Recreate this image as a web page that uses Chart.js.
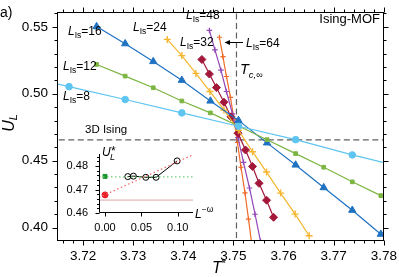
<!DOCTYPE html>
<html><head><meta charset="utf-8">
<script src="https://cdn.jsdelivr.net/npm/chart.js@4.4.1/dist/chart.umd.min.js"></script>
<style>
html,body{margin:0;padding:0;background:#fff;}
#wrap{position:relative;width:399px;height:277px;overflow:hidden;}
#main{position:absolute;left:0;top:0;}
#inset{position:absolute;left:60px;top:140px;}
</style></head><body>
<div id="wrap"><canvas id="main" width="399" height="277"></canvas><canvas id="inset" width="165" height="100"></canvas></div>
<script>
// ---------- data ----------
const T_L8  = [3.7059, 3.7172, 3.7284, 3.7397, 3.7510, 3.7624, 3.7737, 3.7850];
const U_L8  = [0.5151, 0.5053, 0.4957, 0.4857, 0.4757, 0.4657, 0.4543, 0.4441];
const T_L12 = [3.7227, 3.7284, 3.7340, 3.7397, 3.7454, 3.7510, 3.7567, 3.7624, 3.7680, 3.7737, 3.7794];
const U_L12 = [0.5219, 0.5132, 0.5045, 0.4946, 0.4857, 0.4759, 0.4657, 0.4553, 0.4451, 0.4342, 0.4239];
const T_L16 = [3.7227, 3.7284, 3.7340, 3.7397, 3.7454, 3.7510, 3.7567, 3.7624, 3.7680, 3.7737, 3.7794];
const U_L16 = [0.5502, 0.5374, 0.5241, 0.5101, 0.4946, 0.4801, 0.4633, 0.4468, 0.4299, 0.4130, 0.3951];
const T_L24 = [3.7368, 3.7397, 3.7425, 3.7453, 3.7481, 3.7510, 3.7538, 3.7566, 3.7594, 3.7623, 3.7651];
const U_L24 = [0.5406, 0.5285, 0.5152, 0.5017, 0.4879, 0.4727, 0.4567, 0.4415, 0.4258, 0.4101, 0.3939];
const T_L32 = [3.7437, 3.7452, 3.7466, 3.7481, 3.7495, 3.7509, 3.7524, 3.7538, 3.7551, 3.7566, 3.7580];
const U_L32 = [0.5256, 0.5147, 0.5046, 0.4937, 0.4828, 0.4705, 0.4580, 0.4457, 0.4331, 0.4205, 0.4077];
const T_L48 = [3.7452, 3.7463, 3.7475, 3.7486, 3.7498, 3.7509, 3.7520, 3.7532, 3.7543, 3.7554];
const U_L48 = [0.5473, 0.5328, 0.5176, 0.5017, 0.4850, 0.4672, 0.4488, 0.4296, 0.4100, 0.3897];
const T_L64 = [3.7472, 3.7479, 3.7486, 3.7494, 3.7501, 3.7508, 3.7515, 3.7523, 3.7530, 3.7537];
const U_L64 = [0.5422, 0.5277, 0.5129, 0.4973, 0.4810, 0.4636, 0.4451, 0.4259, 0.4064, 0.3864];
const TC_INF = 3.7506;
const U_ISING = 0.4655;
const X_TICKS = [3.72, 3.73, 3.74, 3.75, 3.76, 3.77, 3.78];
const Y_TICKS = [0.40, 0.45, 0.50, 0.55];
const X_RANGE = [3.7148, 3.78];
const Y_RANGE = [0.39, 0.561];
// inset
const INV_L   = [0.0313, 0.0390, 0.0561, 0.0702, 0.0992];
const U_STAR  = [0.4755, 0.4757, 0.4752, 0.4752, 0.4822];
const EXT_GREEN = 0.4756;
const EXT_RED   = 0.4677;
const FIT_X     = [-0.0083, 0.121];
const FIT_RED   = [0.4666, 0.4848];
const FIT_GREEN = [0.4754, 0.4754];
const IN_X_TICKS = [0.00, 0.05, 0.10];
const IN_Y_TICKS = [0.46, 0.47, 0.48];
const IN_X_RANGE = [-0.0083, 0.121];
const IN_Y_RANGE = [0.46, 0.4853];

const FONT = '"Liberation Sans", Arial, Helvetica, sans-serif';
const C8='#5ec4f0', C12='#7cb542', C16='#1f72c2', C24='#f5b52e', C32='#a3183a', C48='#9447b8', C64='#f06a28';
const mk = (X,Y)=>X.map((x,i)=>({x:x,y:Y[i]}));

function drawRich(ctx, x, y, parts, align){
  let w=0; const ms=[];
  for(const p of parts){ ctx.font=(p[2]?'italic ':'')+p[1]+'px '+FONT; const m=ctx.measureText(p[0]).width; ms.push(m); w+=m; }
  let cx = align==='center'? x-w/2 : (align==='right'? x-w : x);
  ctx.textAlign='left'; ctx.textBaseline='alphabetic';
  parts.forEach((p,i)=>{ ctx.font=(p[2]?'italic ':'')+p[1]+'px '+FONT; ctx.fillText(p[0], cx, y+(p[3]||0)); cx+=ms[i]; });
}
function lLabel(n){ return [['L',12,true,0],['Is',8.5,false,3],['='+n,12,false,0]]; }

function series(L, T, U, color, style, r, extra){
  return Object.assign({label:L, data:mk(T,U), showLine:true, borderColor:color, backgroundColor:color,
    pointBackgroundColor:color, pointBorderColor:color, borderWidth:1.2, pointStyle:style, pointRadius:r,
    pointBorderWidth:1, clip:0, order:1}, extra||{});
}

const mainPlugin = {
  id:'mainDeco',
  afterDraw(chart){
    const ctx=chart.ctx, a=chart.chartArea, xs=chart.scales.x, ys=chart.scales.y;
    ctx.save();
    ctx.strokeStyle='#000'; ctx.lineWidth=1;
    const L=Math.round(a.left)+0.5, R=Math.round(a.right)-0.5, T=Math.round(a.top)+0.5, B=Math.round(a.bottom)-0.5;
    ctx.strokeRect(L, T, R-L, B-T);
    ctx.beginPath();
    for(let k=0;k<=32;k++){
      const v=3.716+k*0.002; const px=Math.round(xs.getPixelForValue(v))+0.5;
      const major = X_TICKS.some(t=>Math.abs(t-v)<1e-6); const len = major?5:3;
      ctx.moveTo(px,B); ctx.lineTo(px,B+len);
      ctx.moveTo(px,T); ctx.lineTo(px,T-len);
    }
    for(let k=0;k<=16;k++){
      const v=0.40+k*0.01; const py=Math.round(ys.getPixelForValue(v))+0.5;
      const major = Y_TICKS.some(t=>Math.abs(t-v)<1e-6); const len = major?5:3;
      ctx.moveTo(L,py); ctx.lineTo(L-len,py);
      ctx.moveTo(R,py); ctx.lineTo(R+len,py);
    }
    ctx.stroke();
    ctx.fillStyle='#000';
    drawRich(ctx, 0, 17, [['a)',14,false,0]]);
    drawRich(ctx, 68, 34.5, lLabel(16));
    drawRich(ctx, 133, 31, lLabel(24));
    drawRich(ctx, 63, 70, lLabel(12));
    drawRich(ctx, 63, 100, lLabel(8));
    drawRich(ctx, 180, 46, lLabel(32));
    drawRich(ctx, 186, 18.5, lLabel(48));
    drawRich(ctx, 246, 46.5, lLabel(64));
    ctx.beginPath(); ctx.moveTo(243,42.5); ctx.lineTo(226,42.5); ctx.stroke();
    ctx.beginPath(); ctx.moveTo(224.5,42.5); ctx.lineTo(230,40); ctx.lineTo(230,45); ctx.closePath(); ctx.fill();
    drawRich(ctx, 240, 74, [['T',14.5,true,0],['c,\u221E',9.5,true,3.5]]);
    drawRich(ctx, 380, 23, [['Ising-MOF',13,false,0]], 'right');
    drawRich(ctx, 85, 133, [['3D Ising',11.5,false,0]]);
    drawRich(ctx, 219, 273, [['T',16,true,0],['*',11,false,-6]], 'center');
    ctx.save(); ctx.translate(14, 123); ctx.rotate(-Math.PI/2);
    drawRich(ctx, 0, 0, [['U',16,true,0],['L',11,true,3]], 'center');
    ctx.restore();
    ctx.restore();
  }
};

new Chart(document.getElementById('main'), {
  type:'scatter',
  data:{datasets:[
    {label:'Tc', data:mk([TC_INF,TC_INF],[0.3,0.7]), showLine:true, borderColor:'#606060', borderWidth:1.2, borderDash:[6,3.5], pointRadius:0, clip:0, order:10},
    {label:'Ising', data:mk([3.7,3.8],[U_ISING,U_ISING]), showLine:true, borderColor:'#606060', borderWidth:1.2, borderDash:[6,3.5], pointRadius:0, clip:0, order:10},
    series('L8',  T_L8,  U_L8,  C8,  'circle', 3.3),
    series('L12', T_L12, U_L12, C12, 'rect', 2.6),
    series('L16', T_L16, U_L16, C16, 'triangle', 4.2),
    series('L24', T_L24, U_L24, C24, 'cross', 3.5, {pointBorderWidth:1.4}),
    series('L32', T_L32, U_L32, C32, 'rectRot', 4),
    series('L48', T_L48, U_L48, C48, 'cross', 2.8, {pointBorderWidth:1.2}),
    series('L64', T_L64, U_L64, C64, 'cross', 2.6, {pointBorderWidth:1.2})
  ]},
  options:{
    responsive:false, animation:false, events:[],
    plugins:{legend:{display:false}, tooltip:{enabled:false}},
    layout:{padding:{top:5,right:14,left:0,bottom:0}},
    scales:{
      x:{type:'linear', min:X_RANGE[0], max:X_RANGE[1],
         afterFit(s){s.height=36;}, afterBuildTicks(s){s.ticks=X_TICKS.map(v=>({value:v}));},
         grid:{drawOnChartArea:false, tickLength:5, tickColor:'rgba(0,0,0,0)'}, border:{display:false},
         ticks:{callback:v=>Number(v).toFixed(2), font:{family:FONT,size:13.5}, color:'#000', padding:2, maxRotation:0, autoSkip:false}},
      y:{type:'linear', min:Y_RANGE[0], max:Y_RANGE[1],
         afterFit(s){s.width=57;}, afterBuildTicks(s){s.ticks=Y_TICKS.map(v=>({value:v}));},
         grid:{drawOnChartArea:false, tickLength:5, tickColor:'rgba(0,0,0,0)'}, border:{display:false},
         ticks:{callback:v=>Number(v).toFixed(2), font:{family:FONT,size:13.5}, color:'#000', padding:4, autoSkip:false}}
    }
  },
  plugins:[mainPlugin]
});

const insetPlugin = {
  id:'insetDeco',
  afterDraw(chart){
    const ctx=chart.ctx, a=chart.chartArea, xs=chart.scales.x, ys=chart.scales.y;
    ctx.save(); ctx.strokeStyle='#000'; ctx.lineWidth=1;
    const L=Math.round(a.left)+0.5, B=Math.round(a.bottom)-0.5, T=Math.round(a.top), R=Math.round(a.right);
    ctx.beginPath();
    ctx.moveTo(L,T); ctx.lineTo(L,B); ctx.lineTo(R,B);
    for(let k=0;k<=12;k++){
      const v=0.46+k*0.002; const py=Math.round(ys.getPixelForValue(v))+0.5;
      if(py<T) continue;
      const major=IN_Y_TICKS.some(t=>Math.abs(t-v)<1e-6); const len=major?4:2.5;
      ctx.moveTo(L,py); ctx.lineTo(L-len,py);
    }
    for(const v of IN_X_TICKS){ const px=Math.round(xs.getPixelForValue(v))+0.5; ctx.moveTo(px,B); ctx.lineTo(px,B+4); }
    ctx.stroke();
    ctx.fillStyle='#000';
    drawRich(ctx, 42, 16, [['U',12,true,0]]);
    drawRich(ctx, 51, 15, [['*',12,false,0]]);
    drawRich(ctx, 50, 20, [['L',9,true,0]]);
    drawRich(ctx, 135, 78, [['L',12,true,0],['\u2212\u03C9',8.5,false,-6]]);
    ctx.restore();
  }
};

new Chart(document.getElementById('inset'), {
  type:'scatter',
  data:{datasets:[
    {data:mk(FIT_X,FIT_RED), showLine:true, borderColor:'#f26464', borderWidth:1.2, borderDash:[1.5,2.5], pointRadius:0, clip:false},
    {data:mk(FIT_X,FIT_GREEN), showLine:true, borderColor:'#6cc86c', borderWidth:1.2, borderDash:[1.5,2.5], pointRadius:0, clip:false},
    {data:mk(FIT_X,[U_ISING,U_ISING]), showLine:true, borderColor:'#dca5a5', borderWidth:1, pointRadius:0, clip:false},
    {data:mk(INV_L,U_STAR), showLine:true, borderColor:'#000', borderWidth:1, pointRadius:3, pointBackgroundColor:'rgba(255,255,255,0)', pointBorderColor:'#000', pointBorderWidth:1, clip:false},
    {data:[{x:0,y:EXT_GREEN}], pointStyle:'rect', pointRadius:2.8, pointBackgroundColor:'#18952a', pointBorderColor:'#18952a', clip:false},
    {data:[{x:0,y:EXT_RED}], pointStyle:'circle', pointRadius:3, pointBackgroundColor:'#ea1f28', pointBorderColor:'#ea1f28', clip:false}
  ]},
  options:{
    responsive:false, animation:false, events:[],
    plugins:{legend:{display:false}, tooltip:{enabled:false}},
    layout:{padding:{top:7,right:32,left:0,bottom:0}},
    scales:{
      x:{type:'linear', min:IN_X_RANGE[0], max:IN_X_RANGE[1],
         afterFit(s){s.height=27;}, afterBuildTicks(s){s.ticks=IN_X_TICKS.map(v=>({value:v}));},
         grid:{drawOnChartArea:false, tickLength:4, tickColor:'rgba(0,0,0,0)'}, border:{display:false},
         ticks:{callback:v=>Number(v).toFixed(2), font:{family:FONT,size:11}, color:'#000', padding:4, maxRotation:0, autoSkip:false}},
      y:{type:'linear', min:IN_Y_RANGE[0], max:IN_Y_RANGE[1],
         afterFit(s){s.width=39;}, afterBuildTicks(s){s.ticks=IN_Y_TICKS.map(v=>({value:v}));},
         grid:{drawOnChartArea:false, tickLength:4, tickColor:'rgba(0,0,0,0)'}, border:{display:false},
         ticks:{callback:v=>Number(v).toFixed(2), font:{family:FONT,size:11}, color:'#000', padding:7, autoSkip:false}}
    }
  },
  plugins:[insetPlugin]
});
</script>
</body></html>
